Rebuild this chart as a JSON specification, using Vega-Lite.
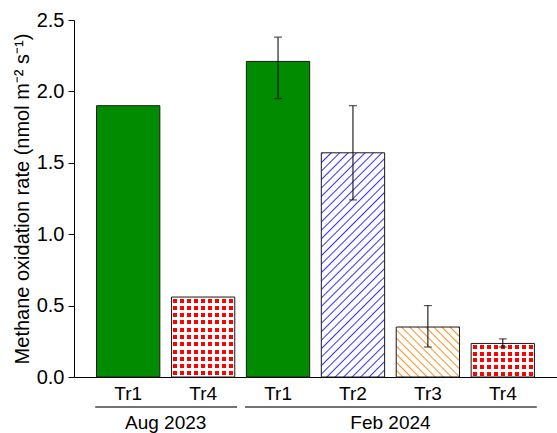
{
  "$schema": "https://vega.github.io/schema/vega-lite/v6.json",
  "autosize": "none",
  "width": 483,
  "height": 357,
  "padding": {"left": 74, "top": 20, "right": 0, "bottom": 56},
  "config": {
    "view": {"stroke": null},
    "font": "Liberation Sans",
    "axis": {"labelFont": "Liberation Sans", "titleFont": "Liberation Sans", "labelColor": "#000", "titleColor": "#000", "domainColor": "#000", "tickColor": "#000", "grid": false}
  },
  "datasets": {
    "bars": [
      {"key": "Aug 2023|Tr1", "period": "Aug 2023", "trt": "Tr1", "mean": 1.90, "lo": null, "hi": null},
      {"key": "Aug 2023|Tr4", "period": "Aug 2023", "trt": "Tr4", "mean": 0.56, "lo": null, "hi": null},
      {"key": "Feb 2024|Tr1", "period": "Feb 2024", "trt": "Tr1", "mean": 2.21, "lo": 1.95, "hi": 2.38},
      {"key": "Feb 2024|Tr2", "period": "Feb 2024", "trt": "Tr2", "mean": 1.57, "lo": 1.24, "hi": 1.90},
      {"key": "Feb 2024|Tr3", "period": "Feb 2024", "trt": "Tr3", "mean": 0.35, "lo": 0.21, "hi": 0.50},
      {"key": "Feb 2024|Tr4", "period": "Feb 2024", "trt": "Tr4", "mean": 0.235, "lo": 0.21, "hi": 0.267}
    ],
    "groups": [
      {"period": "Aug 2023", "first": "Aug 2023|Tr1", "last": "Aug 2023|Tr4", "mid": "Aug 2023|Tr1"},
      {"period": "Feb 2024", "first": "Feb 2024|Tr1", "last": "Feb 2024|Tr4", "mid": "Feb 2024|Tr2"}
    ]
  },
  "data": {"name": "bars"},
  "layer": [
    {
      "transform": [{"filter": "datum.trt == 'Tr1'"}],
      "mark": {"type": "bar", "fill": "#008b00", "stroke": "#1a1a1a", "strokeWidth": 1},
      "encoding": {
        "x": {"field": "key", "type": "nominal", "title": null,
          "scale": {"domain": ["Aug 2023|Tr1", "Aug 2023|Tr4", "Feb 2024|Tr1", "Feb 2024|Tr2", "Feb 2024|Tr3", "Feb 2024|Tr4"], "paddingInner": 0.155, "paddingOuter": 0.301},
          "axis": {"ticks": false, "labelAngle": 0, "labelFontSize": 19, "labelPadding": 7, "labelExpr": "split(datum.value, '|')[1]", "domainWidth": 1}},
        "y": {"field": "mean", "type": "quantitative", "title": "Methane oxidation rate (nmol m⁻² s⁻¹)",
          "scale": {"domain": [0, 2.5], "nice": false},
          "axis": {"values": [0, 0.5, 1, 1.5, 2, 2.5], "format": ".1f", "tickSize": 6, "labelPadding": 4, "labelFontSize": 20, "titleFontSize": 20, "titleFontWeight": "normal", "titlePadding": 4, "domainWidth": 1}}
      }
    },
    {
      "transform": [{"filter": "datum.key == 'Aug 2023|Tr4'"}],
      "mark": {"type": "bar", "fill": {"gradient": "linear", "x1": 0, "y1": 0, "x2": 0, "y2": 1, "stops": [
        {"offset": 0, "color": "#ffffff"}, {"offset": 0.0205, "color": "#ffffff"}, {"offset": 0.0205, "color": "#ff0000"}, {"offset": 0.0705, "color": "#ff0000"}, {"offset": 0.0705, "color": "#ffffff"},
        {"offset": 0.1114, "color": "#ffffff"}, {"offset": 0.1114, "color": "#ff0000"}, {"offset": 0.1614, "color": "#ff0000"}, {"offset": 0.1614, "color": "#ffffff"},
        {"offset": 0.2023, "color": "#ffffff"}, {"offset": 0.2023, "color": "#ff0000"}, {"offset": 0.2523, "color": "#ff0000"}, {"offset": 0.2523, "color": "#ffffff"},
        {"offset": 0.2932, "color": "#ffffff"}, {"offset": 0.2932, "color": "#ff0000"}, {"offset": 0.3432, "color": "#ff0000"}, {"offset": 0.3432, "color": "#ffffff"},
        {"offset": 0.3841, "color": "#ffffff"}, {"offset": 0.3841, "color": "#ff0000"}, {"offset": 0.4341, "color": "#ff0000"}, {"offset": 0.4341, "color": "#ffffff"},
        {"offset": 0.475, "color": "#ffffff"}, {"offset": 0.475, "color": "#ff0000"}, {"offset": 0.525, "color": "#ff0000"}, {"offset": 0.525, "color": "#ffffff"},
        {"offset": 0.5659, "color": "#ffffff"}, {"offset": 0.5659, "color": "#ff0000"}, {"offset": 0.6159, "color": "#ff0000"}, {"offset": 0.6159, "color": "#ffffff"},
        {"offset": 0.6568, "color": "#ffffff"}, {"offset": 0.6568, "color": "#ff0000"}, {"offset": 0.7068, "color": "#ff0000"}, {"offset": 0.7068, "color": "#ffffff"},
        {"offset": 0.7477, "color": "#ffffff"}, {"offset": 0.7477, "color": "#ff0000"}, {"offset": 0.7977, "color": "#ff0000"}, {"offset": 0.7977, "color": "#ffffff"},
        {"offset": 0.8386, "color": "#ffffff"}, {"offset": 0.8386, "color": "#ff0000"}, {"offset": 0.8886, "color": "#ff0000"}, {"offset": 0.8886, "color": "#ffffff"},
        {"offset": 0.9295, "color": "#ffffff"}, {"offset": 0.9295, "color": "#ff0000"}, {"offset": 0.9795, "color": "#ff0000"}, {"offset": 0.9795, "color": "#ffffff"},
        {"offset": 1, "color": "#ffffff"}
      ]}},
      "encoding": {
        "x": {"field": "key", "type": "nominal", "title": null},
        "y": {"field": "mean", "type": "quantitative", "title": "Methane oxidation rate (nmol m⁻² s⁻¹)"}
      }
    },
    {
      "transform": [{"filter": "datum.key == 'Feb 2024|Tr4'"}],
      "mark": {"type": "bar", "fill": {"gradient": "linear", "x1": 0, "y1": 0, "x2": 0, "y2": 1, "stops": [
        {"offset": 0, "color": "#ffffff"}, {"offset": 0.0405, "color": "#ffffff"}, {"offset": 0.0405, "color": "#ff0000"}, {"offset": 0.1595, "color": "#ff0000"}, {"offset": 0.1595, "color": "#ffffff"},
        {"offset": 0.2405, "color": "#ffffff"}, {"offset": 0.2405, "color": "#ff0000"}, {"offset": 0.3595, "color": "#ff0000"}, {"offset": 0.3595, "color": "#ffffff"},
        {"offset": 0.4405, "color": "#ffffff"}, {"offset": 0.4405, "color": "#ff0000"}, {"offset": 0.5595, "color": "#ff0000"}, {"offset": 0.5595, "color": "#ffffff"},
        {"offset": 0.6405, "color": "#ffffff"}, {"offset": 0.6405, "color": "#ff0000"}, {"offset": 0.7595, "color": "#ff0000"}, {"offset": 0.7595, "color": "#ffffff"},
        {"offset": 0.8405, "color": "#ffffff"}, {"offset": 0.8405, "color": "#ff0000"}, {"offset": 0.9595, "color": "#ff0000"}, {"offset": 0.9595, "color": "#ffffff"},
        {"offset": 1, "color": "#ffffff"}
      ]}},
      "encoding": {
        "x": {"field": "key", "type": "nominal", "title": null},
        "y": {"field": "mean", "type": "quantitative", "title": "Methane oxidation rate (nmol m⁻² s⁻¹)"}
      }
    },
    {
      "transform": [{"filter": "datum.trt == 'Tr4'"}],
      "mark": {"type": "bar", "stroke": "#1a1a1a", "strokeWidth": 1, "fill": {"gradient": "linear", "x1": 0, "y1": 0, "x2": 1, "y2": 0, "stops": [
        {"offset": 0, "color": "#ffffff"}, {"offset": 0.024, "color": "#ffffff"}, {"offset": 0.024, "color": "rgba(255,255,255,0)"}, {"offset": 0.0872, "color": "rgba(255,255,255,0)"}, {"offset": 0.0872, "color": "#ffffff"},
        {"offset": 0.1351, "color": "#ffffff"}, {"offset": 0.1351, "color": "rgba(255,255,255,0)"}, {"offset": 0.1983, "color": "rgba(255,255,255,0)"}, {"offset": 0.1983, "color": "#ffffff"},
        {"offset": 0.2462, "color": "#ffffff"}, {"offset": 0.2462, "color": "rgba(255,255,255,0)"}, {"offset": 0.3094, "color": "rgba(255,255,255,0)"}, {"offset": 0.3094, "color": "#ffffff"},
        {"offset": 0.3573, "color": "#ffffff"}, {"offset": 0.3573, "color": "rgba(255,255,255,0)"}, {"offset": 0.4205, "color": "rgba(255,255,255,0)"}, {"offset": 0.4205, "color": "#ffffff"},
        {"offset": 0.4684, "color": "#ffffff"}, {"offset": 0.4684, "color": "rgba(255,255,255,0)"}, {"offset": 0.5316, "color": "rgba(255,255,255,0)"}, {"offset": 0.5316, "color": "#ffffff"},
        {"offset": 0.5796, "color": "#ffffff"}, {"offset": 0.5796, "color": "rgba(255,255,255,0)"}, {"offset": 0.6428, "color": "rgba(255,255,255,0)"}, {"offset": 0.6428, "color": "#ffffff"},
        {"offset": 0.6907, "color": "#ffffff"}, {"offset": 0.6907, "color": "rgba(255,255,255,0)"}, {"offset": 0.7539, "color": "rgba(255,255,255,0)"}, {"offset": 0.7539, "color": "#ffffff"},
        {"offset": 0.8018, "color": "#ffffff"}, {"offset": 0.8018, "color": "rgba(255,255,255,0)"}, {"offset": 0.865, "color": "rgba(255,255,255,0)"}, {"offset": 0.865, "color": "#ffffff"},
        {"offset": 0.9129, "color": "#ffffff"}, {"offset": 0.9129, "color": "rgba(255,255,255,0)"}, {"offset": 0.9761, "color": "rgba(255,255,255,0)"}, {"offset": 0.9761, "color": "#ffffff"},
        {"offset": 1, "color": "#ffffff"}
      ]}},
      "encoding": {
        "x": {"field": "key", "type": "nominal", "title": null},
        "y": {"field": "mean", "type": "quantitative", "title": "Methane oxidation rate (nmol m⁻² s⁻¹)"}
      }
    },
    {
      "transform": [{"filter": "datum.trt == 'Tr2'"}],
      "mark": {"type": "bar", "stroke": "#1a1a1a", "strokeWidth": 1, "fill": {"gradient": "linear", "x1": 0, "y1": 0, "x2": 0.3353, "y2": 1.1876, "stops": [
        {"offset": 0, "color": "#ffffff"}, {"offset": 0.005, "color": "#3434ff"}, {"offset": 0.01, "color": "#ffffff"},
        {"offset": 0.0294, "color": "#ffffff"}, {"offset": 0.0344, "color": "#3434ff"}, {"offset": 0.0394, "color": "#ffffff"},
        {"offset": 0.0588, "color": "#ffffff"}, {"offset": 0.0638, "color": "#3434ff"}, {"offset": 0.0688, "color": "#ffffff"},
        {"offset": 0.0882, "color": "#ffffff"}, {"offset": 0.0932, "color": "#3434ff"}, {"offset": 0.0982, "color": "#ffffff"},
        {"offset": 0.1176, "color": "#ffffff"}, {"offset": 0.1226, "color": "#3434ff"}, {"offset": 0.1276, "color": "#ffffff"},
        {"offset": 0.1471, "color": "#ffffff"}, {"offset": 0.1521, "color": "#3434ff"}, {"offset": 0.1571, "color": "#ffffff"},
        {"offset": 0.1765, "color": "#ffffff"}, {"offset": 0.1815, "color": "#3434ff"}, {"offset": 0.1865, "color": "#ffffff"},
        {"offset": 0.2059, "color": "#ffffff"}, {"offset": 0.2109, "color": "#3434ff"}, {"offset": 0.2159, "color": "#ffffff"},
        {"offset": 0.2353, "color": "#ffffff"}, {"offset": 0.2403, "color": "#3434ff"}, {"offset": 0.2453, "color": "#ffffff"},
        {"offset": 0.2647, "color": "#ffffff"}, {"offset": 0.2697, "color": "#3434ff"}, {"offset": 0.2747, "color": "#ffffff"},
        {"offset": 0.2941, "color": "#ffffff"}, {"offset": 0.2991, "color": "#3434ff"}, {"offset": 0.3041, "color": "#ffffff"},
        {"offset": 0.3235, "color": "#ffffff"}, {"offset": 0.3285, "color": "#3434ff"}, {"offset": 0.3335, "color": "#ffffff"},
        {"offset": 0.3529, "color": "#ffffff"}, {"offset": 0.3579, "color": "#3434ff"}, {"offset": 0.3629, "color": "#ffffff"},
        {"offset": 0.3824, "color": "#ffffff"}, {"offset": 0.3874, "color": "#3434ff"}, {"offset": 0.3924, "color": "#ffffff"},
        {"offset": 0.4118, "color": "#ffffff"}, {"offset": 0.4168, "color": "#3434ff"}, {"offset": 0.4218, "color": "#ffffff"},
        {"offset": 0.4412, "color": "#ffffff"}, {"offset": 0.4462, "color": "#3434ff"}, {"offset": 0.4512, "color": "#ffffff"},
        {"offset": 0.4706, "color": "#ffffff"}, {"offset": 0.4756, "color": "#3434ff"}, {"offset": 0.4806, "color": "#ffffff"},
        {"offset": 0.5, "color": "#ffffff"}, {"offset": 0.505, "color": "#3434ff"}, {"offset": 0.51, "color": "#ffffff"},
        {"offset": 0.5294, "color": "#ffffff"}, {"offset": 0.5344, "color": "#3434ff"}, {"offset": 0.5394, "color": "#ffffff"},
        {"offset": 0.5588, "color": "#ffffff"}, {"offset": 0.5638, "color": "#3434ff"}, {"offset": 0.5688, "color": "#ffffff"},
        {"offset": 0.5882, "color": "#ffffff"}, {"offset": 0.5932, "color": "#3434ff"}, {"offset": 0.5982, "color": "#ffffff"},
        {"offset": 0.6176, "color": "#ffffff"}, {"offset": 0.6226, "color": "#3434ff"}, {"offset": 0.6276, "color": "#ffffff"},
        {"offset": 0.6471, "color": "#ffffff"}, {"offset": 0.6521, "color": "#3434ff"}, {"offset": 0.6571, "color": "#ffffff"},
        {"offset": 0.6765, "color": "#ffffff"}, {"offset": 0.6815, "color": "#3434ff"}, {"offset": 0.6865, "color": "#ffffff"},
        {"offset": 0.7059, "color": "#ffffff"}, {"offset": 0.7109, "color": "#3434ff"}, {"offset": 0.7159, "color": "#ffffff"},
        {"offset": 0.7353, "color": "#ffffff"}, {"offset": 0.7403, "color": "#3434ff"}, {"offset": 0.7453, "color": "#ffffff"},
        {"offset": 0.7647, "color": "#ffffff"}, {"offset": 0.7697, "color": "#3434ff"}, {"offset": 0.7747, "color": "#ffffff"},
        {"offset": 0.7941, "color": "#ffffff"}, {"offset": 0.7991, "color": "#3434ff"}, {"offset": 0.8041, "color": "#ffffff"},
        {"offset": 0.8235, "color": "#ffffff"}, {"offset": 0.8285, "color": "#3434ff"}, {"offset": 0.8335, "color": "#ffffff"},
        {"offset": 0.8529, "color": "#ffffff"}, {"offset": 0.8579, "color": "#3434ff"}, {"offset": 0.8629, "color": "#ffffff"},
        {"offset": 0.8824, "color": "#ffffff"}, {"offset": 0.8874, "color": "#3434ff"}, {"offset": 0.8924, "color": "#ffffff"},
        {"offset": 0.9118, "color": "#ffffff"}, {"offset": 0.9168, "color": "#3434ff"}, {"offset": 0.9218, "color": "#ffffff"},
        {"offset": 0.9412, "color": "#ffffff"}, {"offset": 0.9462, "color": "#3434ff"}, {"offset": 0.9512, "color": "#ffffff"},
        {"offset": 0.9706, "color": "#ffffff"}, {"offset": 0.9756, "color": "#3434ff"}, {"offset": 0.9806, "color": "#ffffff"},
        {"offset": 1, "color": "#ffffff"}
      ]}},
      "encoding": {
        "x": {"field": "key", "type": "nominal", "title": null},
        "y": {"field": "mean", "type": "quantitative", "title": "Methane oxidation rate (nmol m⁻² s⁻¹)"}
      }
    },
    {
      "transform": [{"filter": "datum.trt == 'Tr3'"}],
      "mark": {"type": "bar", "stroke": "#1a1a1a", "strokeWidth": 1, "fill": {"gradient": "linear", "x1": 1, "y1": 0, "x2": -0.1022, "y2": 0.8706, "stops": [
        {"offset": 0, "color": "#ffffff"}, {"offset": 0.0125, "color": "#ff9020"}, {"offset": 0.025, "color": "#ffffff"},
        {"offset": 0.0714, "color": "#ffffff"}, {"offset": 0.0839, "color": "#ff9020"}, {"offset": 0.0964, "color": "#ffffff"},
        {"offset": 0.1429, "color": "#ffffff"}, {"offset": 0.1554, "color": "#ff9020"}, {"offset": 0.1679, "color": "#ffffff"},
        {"offset": 0.2143, "color": "#ffffff"}, {"offset": 0.2268, "color": "#ff9020"}, {"offset": 0.2393, "color": "#ffffff"},
        {"offset": 0.2857, "color": "#ffffff"}, {"offset": 0.2982, "color": "#ff9020"}, {"offset": 0.3107, "color": "#ffffff"},
        {"offset": 0.3571, "color": "#ffffff"}, {"offset": 0.3696, "color": "#ff9020"}, {"offset": 0.3821, "color": "#ffffff"},
        {"offset": 0.4286, "color": "#ffffff"}, {"offset": 0.4411, "color": "#ff9020"}, {"offset": 0.4536, "color": "#ffffff"},
        {"offset": 0.5, "color": "#ffffff"}, {"offset": 0.5125, "color": "#ff9020"}, {"offset": 0.525, "color": "#ffffff"},
        {"offset": 0.5714, "color": "#ffffff"}, {"offset": 0.5839, "color": "#ff9020"}, {"offset": 0.5964, "color": "#ffffff"},
        {"offset": 0.6429, "color": "#ffffff"}, {"offset": 0.6554, "color": "#ff9020"}, {"offset": 0.6679, "color": "#ffffff"},
        {"offset": 0.7143, "color": "#ffffff"}, {"offset": 0.7268, "color": "#ff9020"}, {"offset": 0.7393, "color": "#ffffff"},
        {"offset": 0.7857, "color": "#ffffff"}, {"offset": 0.7982, "color": "#ff9020"}, {"offset": 0.8107, "color": "#ffffff"},
        {"offset": 0.8571, "color": "#ffffff"}, {"offset": 0.8696, "color": "#ff9020"}, {"offset": 0.8821, "color": "#ffffff"},
        {"offset": 0.9286, "color": "#ffffff"}, {"offset": 0.9411, "color": "#ff9020"}, {"offset": 0.9536, "color": "#ffffff"},
        {"offset": 1, "color": "#ffffff"}
      ]}},
      "encoding": {
        "x": {"field": "key", "type": "nominal", "title": null},
        "y": {"field": "mean", "type": "quantitative", "title": "Methane oxidation rate (nmol m⁻² s⁻¹)"}
      }
    },
    {
      "transform": [{"filter": "datum.lo != null"}],
      "mark": {"type": "errorbar", "color": "#111111", "ticks": {"size": 8, "thickness": 1.2}, "rule": {"strokeWidth": 1.1}},
      "encoding": {
        "x": {"field": "key", "type": "nominal", "title": null},
        "y": {"field": "lo", "type": "quantitative", "title": "Methane oxidation rate (nmol m⁻² s⁻¹)"},
        "y2": {"field": "hi"}
      }
    },
    {
      "data": {"name": "groups"},
      "mark": {"type": "rule", "color": "#444444", "strokeWidth": 1.3, "xOffset": -33, "x2Offset": 34, "yOffset": 30},
      "encoding": {
        "x": {"field": "first", "type": "nominal", "title": null},
        "x2": {"field": "last"},
        "y": {"datum": 0, "type": "quantitative", "title": "Methane oxidation rate (nmol m⁻² s⁻¹)"}
      }
    },
    {
      "data": {"name": "groups"},
      "mark": {"type": "text", "font": "Liberation Sans", "fontSize": 19, "color": "#000000", "dx": 37.5, "dy": 52, "baseline": "alphabetic", "align": "center"},
      "encoding": {
        "x": {"field": "mid", "type": "nominal", "title": null},
        "y": {"datum": 0, "type": "quantitative", "title": "Methane oxidation rate (nmol m⁻² s⁻¹)"},
        "text": {"field": "period"}
      }
    }
  ]
}
